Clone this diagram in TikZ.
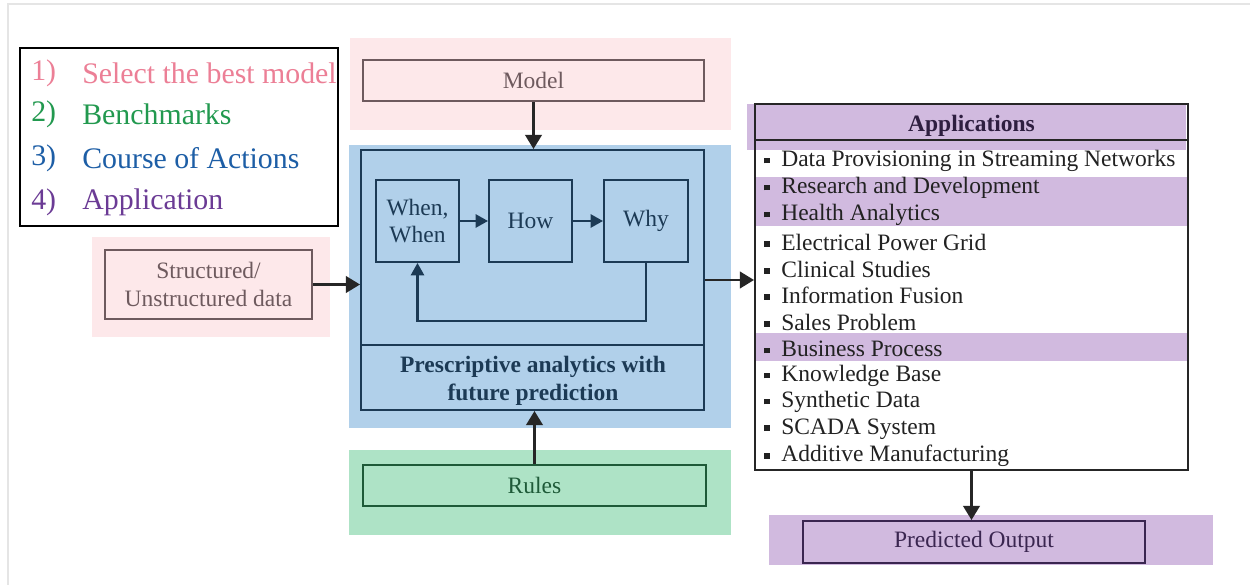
\documentclass[tikz,border=0pt]{standalone}
\usepackage{fontspec}
\setmainfont{Liberation Serif}
\usetikzlibrary{arrows.meta,calc}
\definecolor{pinkbg}{HTML}{FDE8EA}
\definecolor{pinkline}{HTML}{6E5A5E}
\definecolor{bluebg}{HTML}{B1D0EA}
\definecolor{blueline}{HTML}{1C3A55}
\definecolor{greenbg}{HTML}{AEE3C6}
\definecolor{greenline}{HTML}{1E5A38}
\definecolor{purplebg}{HTML}{D1BADF}
\definecolor{purpleline}{HTML}{3A2650}
\definecolor{legpink}{HTML}{EC7F96}
\definecolor{leggreen}{HTML}{22994F}
\definecolor{legblue}{HTML}{1D5EA6}
\definecolor{legpurple}{HTML}{6B3B95}
\definecolor{itemtext}{HTML}{222222}
\begin{document}
\begin{tikzpicture}[x=0.6pt,y=-0.6pt,
  box/.style={draw, line width=1.2pt, inner sep=0pt, align=center, font=\fontsize{14.1}{16.4}\selectfont},
  arr/.style={line width=1.3pt, -{Triangle[width=10pt,length=8.5pt]}},
  smallarr/.style={line width=1.3pt, blueline, -{Triangle[width=8pt,length=7.5pt]}},
  legtext/.style={anchor=west, inner sep=0pt, font=\fontsize{17.9}{20}\selectfont},
  item/.style={anchor=west, inner sep=0pt, text=itemtext, font=\fontsize{14.1}{16.2}\selectfont}]
\useasboundingbox (0,0) rectangle (1250,585);
\fill[white] (0,0) rectangle (1250,585);
\draw[gray!20, line width=1.5pt] (8,585) -- (8,4) -- (1250,4);

% backgrounds
\fill[pinkbg] (350,38) rectangle (731,130);
\fill[bluebg] (349,145) rectangle (731,428);
\fill[greenbg] (349,450) rectangle (731,535);
\fill[pinkbg] (92,237) rectangle (330,337);
\fill[purplebg] (769,515) rectangle (1213,565);

% legend
\node[draw=black, line width=1.6pt, inner sep=0pt, minimum width=318*0.6pt, minimum height=178*0.6pt] (legend) at (179,137) {};
\node[legtext, text=legpink] (n1) at (31,73) {1)};
\node[legtext, text=legpink] (l1) at (82,73) {Select the best model};
\node[legtext, text=leggreen] (n2) at (31,114) {2)};
\node[legtext, text=leggreen] (l2) at (82,114) {Benchmarks};
\node[legtext, text=legblue] (n3) at (31,158) {3)};
\node[legtext, text=legblue] (l3) at (82,158) {Course of Actions};
\node[legtext, text=legpurple] (n4) at (31,202) {4)};
\node[legtext, text=legpurple] (l4) at (82,202) {Application};

% model
\node[box, draw=pinkline, text=pinkline, minimum width=341*0.6pt, minimum height=41*0.6pt] (model) at (533.5,80.5) {Model};

% structured
\node[box, draw=pinkline, text=pinkline, minimum width=207*0.6pt, minimum height=69*0.6pt] (struct) at (208.5,284.5) {Structured/\\Unstructured data};

% core
\node[box, draw=blueline, minimum width=343*0.6pt, minimum height=260*0.6pt] (core) at (532.5,280) {};
\coordinate (divL) at (361,345);
\coordinate (divR) at (704,345);
\draw[blueline, line width=1.2pt] (divL) -- (divR);
\node[text=blueline, align=center, font=\fontsize{14.1}{17}\selectfont\bfseries] (title) at (533,381) {Prescriptive analytics with\\future prediction};
\node[box, draw=blueline, text=blueline, minimum width=83*0.6pt, minimum height=82*0.6pt] (when) at (417.5,221) {When,\\When};
\node[box, draw=blueline, text=blueline, minimum width=83*0.6pt, minimum height=82*0.6pt] (how) at (530.5,221) {How};
\node[box, draw=blueline, text=blueline, minimum width=84*0.6pt, minimum height=82*0.6pt] (why) at (646,221) {Why};
\draw[smallarr] (when) -- (how);
\draw[smallarr] (how) -- (why);
\draw[smallarr] (why.south) -- ++(0,58) -| (when.south);

% rules
\node[box, draw=greenline, text=greenline, minimum width=343*0.6pt, minimum height=41*0.6pt] (rules) at (534.5,485.5) {Rules};

% applications
\fill[purplebg] (747,104) rectangle (1186,150);
\fill[purplebg] (756,177) rectangle (1187,226);
\fill[purplebg] (756,333) rectangle (1187,361);
\node[box, draw=black!85, minimum width=433*0.6pt, minimum height=366*0.6pt] (app) at (971.5,287) {};
\coordinate (hdrL) at (755,140);
\coordinate (hdrR) at (1188,140);
\draw[black!85, line width=1.2pt] (hdrL) -- (hdrR);
\node[text=purpleline!80!black, font=\fontsize{14.1}{16.2}\selectfont\bfseries] (apptitle) at (971.5,126) {Applications};
\foreach \y/\t [count=\i] in {159/Data Provisioning in Streaming Networks,186/Research and Development,213/Health Analytics,240/Electrical Power Grid,267/Clinical Studies,293/Information Fusion,320/Sales Problem,347/Business Process,374/Knowledge Base,400/Synthetic Data,427/SCADA System,454/Additive Manufacturing}
  \node[item] (it\i) at (764,\y+2) {\raisebox{0.3ex}{\rule{3.4pt}{3.4pt}}\hspace{6.8pt}\t};

% predicted
\node[box, draw=purpleline, text=purpleline, minimum width=342*0.6pt, minimum height=42*0.6pt] (pred) at (974,542) {Predicted Output};

% connectors
\draw[arr, black!85] (model.south) -- (model.south |- core.north);
\draw[arr, black!85] (struct.east) -- (struct.east -| core.west);
\draw[arr, black!85] (core.east) -- (core.east -| app.west);
\draw[arr, black!85] (rules.north) -- (rules.north |- core.south);
\draw[arr, black!85] (app.south) -- (app.south |- pred.north);
\end{tikzpicture}
\end{document}
